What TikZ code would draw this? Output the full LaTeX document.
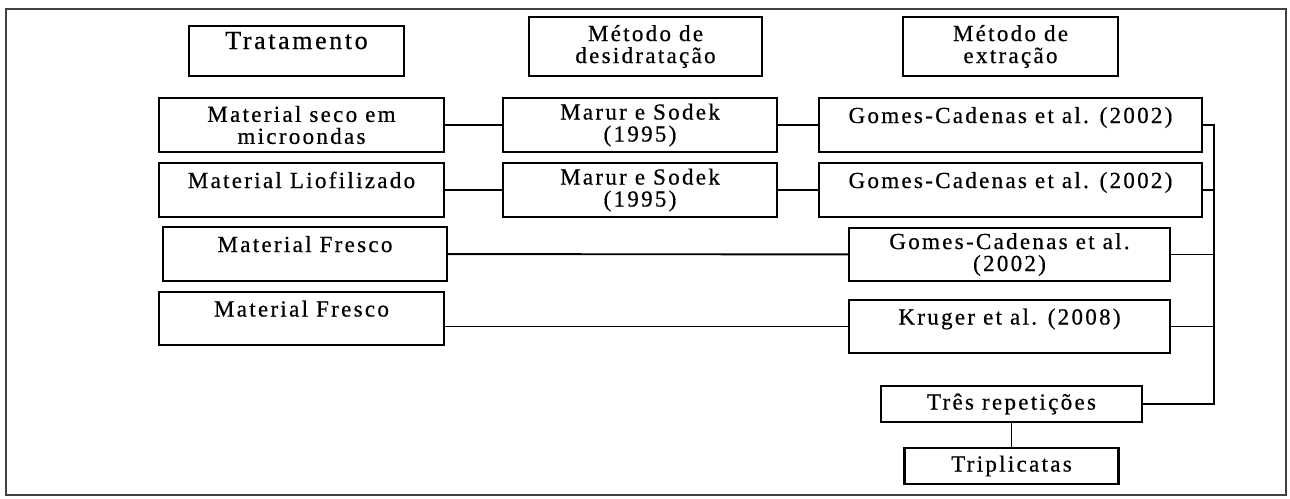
\documentclass[tikz,border=0pt]{standalone}
\usepackage{fontspec}
\setmainfont{Liberation Serif}[LetterSpace=10,FakeBold=0.6]

\begin{document}
\begin{tikzpicture}[x=1pt,y=-1pt,
    caixa/.style={draw,line width=2.4pt,inner sep=0pt,align=center,
      font=\fontsize{23}{22}\selectfont},
    topo/.style={text height=14pt,text depth=18pt},
    ligacao/.style={line width=1.9pt}]
  \useasboundingbox (0,0) rectangle (1290,498);
  \draw[line width=1.4pt,black!75] (6,9) rectangle (1286,495);

  % cabecalhos
  \node[caixa,topo,minimum width=215pt,minimum height=50pt,
    font=\fontsize{26}{25}\selectfont] (trat) at (296.5,51) {Tratamento};
  \node[caixa,minimum width=233pt,minimum height=59pt] (desid) at (645.5,46.5)
    {Método de\\desidratação};
  \node[caixa,minimum width=215pt,minimum height=59pt] (extr) at (1010.5,46.5)
    {Método de\\extração};

  % linhas
  \node[caixa,minimum width=285pt,minimum height=54pt] (seco) at (301.5,125)
    {Material seco em\\microondas};
  \node[caixa,minimum width=274pt,minimum height=54pt] (marur1) at (640,125)
    {Marur e Sodek\\(1995)};
  \node[caixa,topo,minimum width=383pt,minimum height=54pt] (gomes1) at (1010.5,125)
    {Gomes-Cadenas et al. (2002)};

  \node[caixa,topo,minimum width=285pt,minimum height=54pt] (liof) at (301.5,190)
    {Material Liofilizado};
  \node[caixa,minimum width=274pt,minimum height=54pt] (marur2) at (640,190)
    {Marur e Sodek\\(1995)};
  \node[caixa,topo,minimum width=383pt,minimum height=54pt] (gomes2) at (1010.5,190)
    {Gomes-Cadenas et al. (2002)};

  \node[caixa,topo,minimum width=284pt,minimum height=54pt] (fresco1) at (305,254)
    {Material Fresco};
  \node[caixa,minimum width=321pt,minimum height=53pt] (gomes3) at (1009.5,254.5)
    {Gomes-Cadenas et al.\\(2002)};

  \node[caixa,topo,minimum width=285pt,minimum height=53pt] (fresco2) at (301.5,318.5)
    {Material Fresco};
  \node[caixa,topo,minimum width=321pt,minimum height=53pt] (kruger) at (1009.5,326.5)
    {Kruger et al. (2008)};

  \node[caixa,minimum width=261pt,minimum height=36pt] (tres) at (1011.5,404)
    {Três repetições};
  \node[caixa,minimum width=214pt,minimum height=36pt] (tripl) at (1011.5,466)
    {Triplicatas};

  \coordinate (barra) at (1214,0);

  \draw[ligacao] (seco) -- (marur1) -- (gomes1);
  \draw[ligacao] (liof) -- (marur2) -- (gomes2);
  \draw[ligacao] (fresco1) -- (gomes3);
  \draw[ligacao] (kruger.west -| fresco2.east) -- (kruger.west);
  \draw[ligacao] (gomes1.east) -| (barra |- tres.east) -- (tres.east);
  \foreach \n in {gomes2,gomes3,kruger}
    \draw[ligacao] (\n.east) -- (\n.east -| barra);
  \draw[ligacao] (tres) -- (tripl);
\end{tikzpicture}
\end{document}
